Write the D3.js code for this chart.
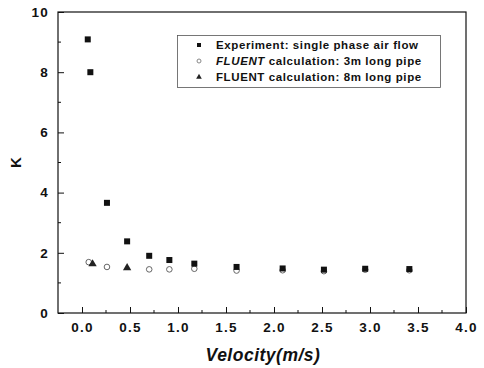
<!DOCTYPE html>
<html><head><meta charset="utf-8">
<script src="https://cdn.jsdelivr.net/npm/d3@7"></script>
<style>body{margin:0;background:#fff}svg{display:block}text{font-family:"Liberation Sans",Arial,sans-serif}</style>
</head><body>
<svg id="c" width="484" height="368"></svg>
<script>
const expX = [0.06, 0.087, 0.26, 0.47, 0.70, 0.91, 1.17, 1.61, 2.09, 2.52, 2.95, 3.41];
const expK = [9.09, 8.00, 3.66, 2.38, 1.90, 1.76, 1.64, 1.53, 1.48, 1.44, 1.47, 1.46];
const f3X = [0.07, 0.26, 0.70, 0.91, 1.17, 1.61, 2.09, 2.52, 2.95, 3.41];
const f3K = [1.69, 1.53, 1.45, 1.45, 1.47, 1.41, 1.42, 1.39, 1.44, 1.42];
const f8X = [0.11, 0.47];
const f8K = [1.63, 1.50];
const xTicks = [0.0, 0.5, 1.0, 1.5, 2.0, 2.5, 3.0, 3.5, 4.0];
const yTicks = [0, 2, 4, 6, 8, 10];
const legendLabels = [["", "Experiment: single phase air flow"], ["FLUENT", " calculation: 3m long pipe"], ["", "FLUENT calculation: 8m long pipe"]];

const svg = d3.select("#c");
const L = 58, R = 466, T = 12, B = 313;
const x = d3.scaleLinear().domain([-0.25, 4.0]).range([L, R]);
const y = d3.scaleLinear().domain([0, 10]).range([B, T]);

// frame
svg.append("rect").attr("x", L).attr("y", T).attr("width", R - L).attr("height", B - T)
  .attr("fill", "none").attr("stroke", "#111").attr("stroke-width", 1.2);

// axes (inward ticks)
const xAxis = d3.axisBottom(x).tickValues(xTicks).tickFormat(d3.format(".1f")).tickSize(-6).tickPadding(9);
const gx = svg.append("g").attr("transform", `translate(0,${B})`).call(xAxis);
const xMinor = d3.range(0.25, 4.0, 0.5);
gx.selectAll(".minor").data(xMinor).enter().append("line").attr("class", "minor")
  .attr("x1", d => x(d)).attr("x2", d => x(d)).attr("y1", 0).attr("y2", -3).attr("stroke", "#111");
const yAxis = d3.axisLeft(y).tickValues(yTicks).tickSize(-6).tickPadding(9);
const gy = svg.append("g").attr("transform", `translate(${L},0)`).call(yAxis);
gy.selectAll(".minor").data([1, 3, 5, 7, 9]).enter().append("line").attr("class", "minor")
  .attr("y1", d => y(d)).attr("y2", d => y(d)).attr("x1", 0).attr("x2", 3).attr("stroke", "#111");
[gx, gy].forEach(g => {
  g.select(".domain").remove();
  g.selectAll(".tick line").attr("stroke", "#111");
  g.selectAll("text").attr("font-size", 13.5).attr("font-weight", "bold").attr("fill", "#111")
    .attr("letter-spacing", 1.2);
});

// axis titles
svg.append("text").attr("x", 263).attr("y", 361).attr("text-anchor", "middle")
  .attr("font-size", 17.5).attr("font-weight", "bold").attr("font-style", "italic").attr("fill", "#111")
  .attr("letter-spacing", 0.5).text("Velocity(m/s)");
svg.append("text").attr("transform", `translate(21,${(T + B) / 2}) rotate(-90)`).attr("text-anchor", "middle")
  .attr("font-size", 15).attr("font-weight", "bold").attr("fill", "#111").text("K");

// marks
svg.append("g").selectAll("circle").data(f3X).enter().append("circle")
  .attr("cx", d => x(d)).attr("cy", (d, i) => y(f3K[i])).attr("r", 2.8)
  .attr("fill", "none").attr("stroke", "#666").attr("stroke-width", 1);
svg.append("g").selectAll("rect").data(expX).enter().append("rect")
  .attr("x", d => x(d) - 3).attr("y", (d, i) => y(expK[i]) - 3).attr("width", 6).attr("height", 6)
  .attr("fill", "#111");
const tri = d3.symbol().type(d3.symbolTriangle).size(30);
svg.append("g").selectAll("path").data(f8X).enter().append("path")
  .attr("d", tri).attr("transform", (d, i) => `translate(${x(d)},${y(f8K[i])})`).attr("fill", "#222");

// legend
const lg = svg.append("g");
lg.append("rect").attr("x", 177.5).attr("y", 35.5).attr("width", 263).attr("height", 52)
  .attr("fill", "#fff").attr("stroke", "#555").attr("stroke-width", 0.8);
const ly = [45, 61, 77];
lg.append("rect").attr("x", 197).attr("y", ly[0] - 2).attr("width", 4).attr("height", 4).attr("fill", "#111");
lg.append("circle").attr("cx", 199).attr("cy", ly[1]).attr("r", 2).attr("fill", "none").attr("stroke", "#888");
lg.append("path").attr("d", d3.symbol().type(d3.symbolTriangle).size(14)).attr("transform", `translate(199,${ly[2]})`).attr("fill", "#222");
legendLabels.forEach((l, i) => {
  const t = lg.append("text").attr("x", 216).attr("y", ly[i] + 4).attr("font-size", 11.5).attr("font-weight", "bold")
    .attr("fill", "#111").attr("letter-spacing", 0.6);
  if (l[0]) t.append("tspan").attr("font-style", "italic").text(l[0]);
  t.append("tspan").text(l[1]);
});
</script>
</body></html>
